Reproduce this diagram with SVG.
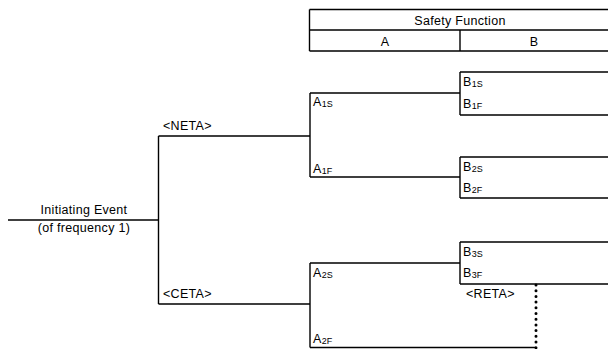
<svg xmlns="http://www.w3.org/2000/svg" width="608" height="349" viewBox="0 0 608 349">
<style>
  .ln { stroke: #000; stroke-width: 1.4; fill: none; }
  .dot { stroke: #000; stroke-width: 3; stroke-linecap: round; stroke-dasharray: 0 5.7; fill: none; }
  text { font-family: "Liberation Sans", Arial, sans-serif; font-size: 12.5px; fill: #000; letter-spacing: 0.3px; }
  .c { text-anchor: middle; }
  .sub { font-size: 9px; letter-spacing: 0; }
</style>
<rect width="608" height="349" fill="#fff"/>
<g id="header">
  <path class="ln" d="M309.5 9.5 H608 M309.5 30 H608 M309.5 51 H608 M309.5 9.5 V51 M460 30 V51"/>
  <text class="c" x="460" y="25">Safety Function</text>
  <text class="c" x="385" y="46">A</text>
  <text class="c" x="534" y="46">B</text>
</g>
<g id="connectors">
  <path class="ln" d="M8 220 H158.5"/>
  <path class="ln" d="M158.5 136 V304 M158.5 136 H310 M158.5 304 H310"/>
  <path class="ln" d="M310 93 V177 M310 93 H460 M310 177 H460"/>
  <path class="ln" d="M310 263 V347.5 M310 263 H460 M310 347.5 H536"/>
  <path class="ln" d="M460 72 V115 M460 72 H608 M460 115 H608"/>
  <path class="ln" d="M460 157 V198 M460 157 H608 M460 198 H608"/>
  <path class="ln" d="M460 242 V284 M460 242 H608 M460 284 H608"/>
  <path class="dot" d="M536 285 V348"/>
</g>
<g id="initiating-event">
  <text class="c" x="84" y="214">Initiating Event</text>
  <text class="c" x="84" y="232">(of frequency 1)</text>
</g>
<g id="neta"><text x="163" y="130">&lt;NETA&gt;</text></g>
<g id="ceta"><text x="163" y="298">&lt;CETA&gt;</text></g>
<g id="a1s"><text x="313" y="106">A<tspan class="sub" dy="1">1S</tspan></text></g>
<g id="a1f"><text x="313" y="173">A<tspan class="sub" dy="1">1F</tspan></text></g>
<g id="a2s"><text x="313" y="277">A<tspan class="sub" dy="1">2S</tspan></text></g>
<g id="a2f"><text x="313" y="343">A<tspan class="sub" dy="1">2F</tspan></text></g>
<g id="b1s"><text x="463" y="86">B<tspan class="sub" dy="1">1S</tspan></text></g>
<g id="b1f"><text x="463" y="108">B<tspan class="sub" dy="1">1F</tspan></text></g>
<g id="b2s"><text x="463" y="171">B<tspan class="sub" dy="1">2S</tspan></text></g>
<g id="b2f"><text x="463" y="192">B<tspan class="sub" dy="1">2F</tspan></text></g>
<g id="b3s"><text x="463" y="256">B<tspan class="sub" dy="1">3S</tspan></text></g>
<g id="b3f"><text x="463" y="277">B<tspan class="sub" dy="1">3F</tspan></text></g>
<g id="reta"><text x="466" y="298">&lt;RETA&gt;</text></g>
</svg>
